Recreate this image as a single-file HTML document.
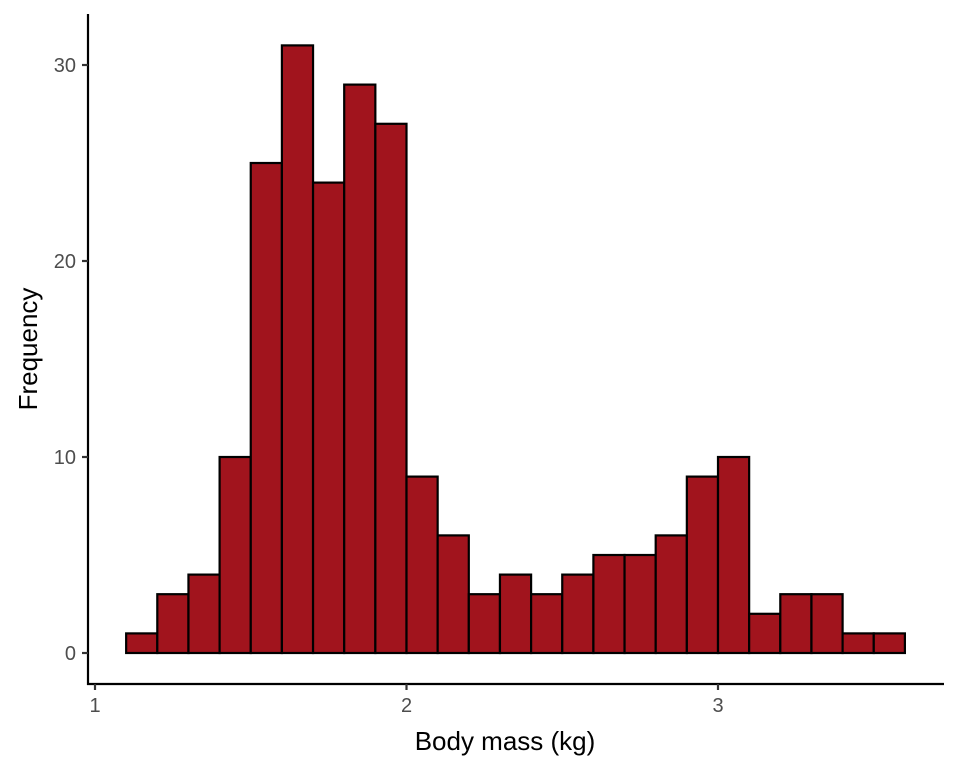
<!DOCTYPE html>
<html><head><style>body{margin:0;background:#fff}</style></head><body>
<svg width="960" height="768" xmlns="http://www.w3.org/2000/svg" font-family="Liberation Sans, Arial, sans-serif">
<rect width="960" height="768" fill="#fff"/>
<g fill="#A1141D" stroke="#000" stroke-width="2.2">
<rect x="126.15" y="633.4" width="31.15" height="19.6"/>
<rect x="157.3" y="594.2" width="31.15" height="58.8"/>
<rect x="188.45" y="574.6" width="31.15" height="78.4"/>
<rect x="219.6" y="457" width="31.15" height="196"/>
<rect x="250.75" y="163" width="31.15" height="490"/>
<rect x="281.9" y="45.4" width="31.15" height="607.6"/>
<rect x="313.05" y="182.6" width="31.15" height="470.4"/>
<rect x="344.2" y="84.6" width="31.15" height="568.4"/>
<rect x="375.35" y="123.8" width="31.15" height="529.2"/>
<rect x="406.5" y="476.6" width="31.15" height="176.4"/>
<rect x="437.65" y="535.4" width="31.15" height="117.6"/>
<rect x="468.8" y="594.2" width="31.15" height="58.8"/>
<rect x="499.95" y="574.6" width="31.15" height="78.4"/>
<rect x="531.1" y="594.2" width="31.15" height="58.8"/>
<rect x="562.25" y="574.6" width="31.15" height="78.4"/>
<rect x="593.4" y="555" width="31.15" height="98"/>
<rect x="624.55" y="555" width="31.15" height="98"/>
<rect x="655.7" y="535.4" width="31.15" height="117.6"/>
<rect x="686.85" y="476.6" width="31.15" height="176.4"/>
<rect x="718" y="457" width="31.15" height="196"/>
<rect x="749.15" y="613.8" width="31.15" height="39.2"/>
<rect x="780.3" y="594.2" width="31.15" height="58.8"/>
<rect x="811.45" y="594.2" width="31.15" height="58.8"/>
<rect x="842.6" y="633.4" width="31.15" height="19.6"/>
<rect x="873.75" y="633.4" width="31.15" height="19.6"/>
</g>
<line x1="88" y1="14" x2="88" y2="685" stroke="#000" stroke-width="2.2"/>
<line x1="87" y1="684" x2="944" y2="684" stroke="#000" stroke-width="2.2"/>
<g stroke="#333" stroke-width="2.2">
<line x1="82" y1="653" x2="88" y2="653"/><line x1="82" y1="457" x2="88" y2="457"/>
<line x1="82" y1="261" x2="88" y2="261"/><line x1="82" y1="65" x2="88" y2="65"/>
<line x1="95" y1="684" x2="95" y2="690"/><line x1="406.5" y1="684" x2="406.5" y2="690"/><line x1="718" y1="684" x2="718" y2="690"/>
</g>
<g fill="#4d4d4d" font-size="20" text-anchor="end">
<text x="76" y="660">0</text><text x="76" y="464">10</text><text x="76" y="268">20</text><text x="76" y="72">30</text>
</g>
<g fill="#4d4d4d" font-size="20" text-anchor="middle">
<text x="95" y="712">1</text><text x="406.5" y="712">2</text><text x="718" y="712">3</text>
</g>
<text x="505" y="750" font-size="26" text-anchor="middle">Body mass (kg)</text>
<text transform="translate(37,349) rotate(-90)" font-size="26" text-anchor="middle">Frequency</text>
</svg>
</body></html>
